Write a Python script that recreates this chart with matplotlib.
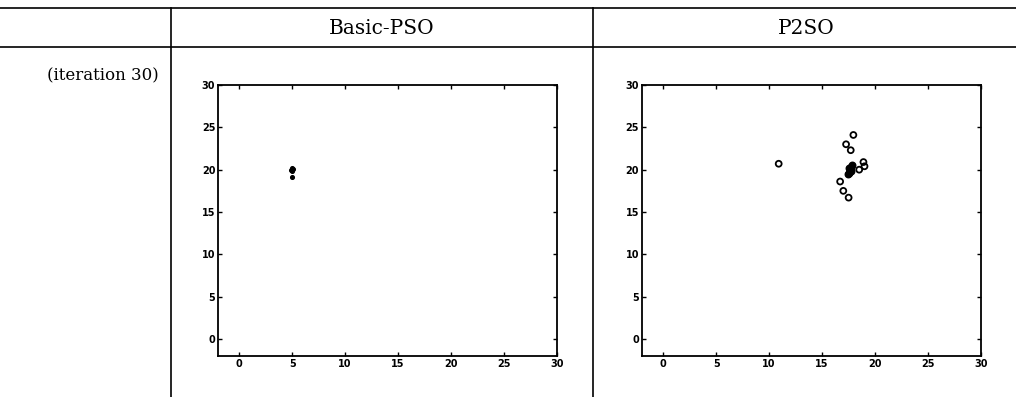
import matplotlib
matplotlib.use('Agg')
import matplotlib.pyplot as plt
from matplotlib.lines import Line2D

# column headers and row label
methods = ['Basic-PSO', 'P2SO']
row_label = '(iteration 30)'

# particle positions
basic_x = [4.9, 5.0, 5.1, 5.0, 4.95]
basic_y = [20.0, 20.2, 20.1, 19.8, 19.1]

p2so_open_x = [10.9, 17.95, 17.26, 17.7, 18.9, 19.0, 18.5, 16.7, 17.0, 17.5]
p2so_open_y = [20.7, 24.1, 23.0, 22.3, 20.9, 20.4, 20.0, 18.6, 17.5, 16.7]
p2so_filled_x = [17.5, 17.6, 17.7, 17.8, 17.5, 17.6, 17.7, 17.4]
p2so_filled_y = [19.6, 20.0, 20.3, 20.6, 20.2, 19.8, 19.9, 19.5]

ticks = [0, 5, 10, 15, 20, 25, 30]

fig = plt.figure(figsize=(10.16, 3.97), dpi=100)

# table rules
for y in [0.98, 0.8816]:
    fig.add_artist(Line2D([0, 1], [y, y], color='black', lw=1.2))
for x in [0.1683, 0.5837]:
    fig.add_artist(Line2D([x, x], [0, 0.98], color='black', lw=1.2))

fig.text(0.376, 0.927, methods[0], ha='center', va='center',
         family='DejaVu Serif', fontsize=14.5)
fig.text(0.794, 0.927, methods[1], ha='center', va='center',
         family='DejaVu Serif', fontsize=14.5)
fig.text(0.0465, 0.81, row_label, ha='left', va='center',
         family='DejaVu Serif', fontsize=12)


def style_axes(ax):
    ax.set_xlim(-2, 30)
    ax.set_ylim(-2, 30)
    ax.set_xticks(ticks)
    ax.set_yticks(ticks)
    ax.tick_params(direction='in', top=True, right=True, length=3,
                   width=1, labelsize=7, pad=2)
    for lab in ax.get_xticklabels() + ax.get_yticklabels():
        lab.set_fontweight('bold')
    for sp in ax.spines.values():
        sp.set_linewidth(1.3)


ax1 = fig.add_axes([0.2146, 0.1033, 0.3337, 0.6826])
ax1.scatter(basic_x, basic_y, s=7, c='black', marker='o')
style_axes(ax1)

ax2 = fig.add_axes([0.6319, 0.1033, 0.3337, 0.6826])
ax2.scatter(p2so_open_x, p2so_open_y, s=18, facecolors='none',
            edgecolors='black', linewidths=1.3)
ax2.scatter(p2so_filled_x, p2so_filled_y, s=22, c='black')
style_axes(ax2)

fig.savefig('out.png', dpi=100)
